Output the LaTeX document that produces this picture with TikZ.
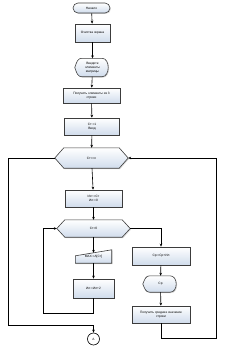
\documentclass[tikz,border=0pt]{standalone}
\usepackage{fontspec}
\setmainfont{Liberation Sans}
\usetikzlibrary{arrows.meta,shadows,calc,backgrounds}
\definecolor{boxfill}{RGB}{208,220,236}
\definecolor{boxline}{RGB}{60,60,60}
\begin{document}
\begin{tikzpicture}[x=1pt,y=-1pt,
  every node/.style={font=\fontsize{3.2}{3.9}\selectfont, align=center, inner sep=0pt},
  shapefill/.style={draw=boxline, line width=0.6pt, top color=white, bottom color=boxfill,
    drop shadow={shadow xshift=0.9pt, shadow yshift=-0.9pt, opacity=0.3}},
  box/.style={shapefill, rectangle, minimum width=#1},
  term/.style={shapefill, rectangle, rounded corners=5pt, minimum width=37pt, minimum height=10pt},
  frame/.style={draw=none, rectangle, minimum width=#1},
  conn/.style={draw=black, line width=0.6pt, -{Stealth[length=3pt,width=2.6pt]}},
  line/.style={draw=black, line width=0.6pt}]
\useasboundingbox (0,0) rectangle (227,349);

% nodes
\node[term] (start) at (91.5,8) {Начало};
\node[box=35pt, minimum height=18pt] (clr) at (92.5,33) {Очистка экрана};
\node[frame=35pt, minimum height=18pt] (inp) at (92.5,67.5) {Введите\\элементы\\матрицы};
\node[box=57pt, minimum height=15pt] (r4) at (91.5,95.5) {Получить элементы из 3\\строки};
\node[box=55pt, minimum height=17pt] (r5) at (92,126.5) {Ст:=1\\Ввод};
\node[frame=73pt, minimum height=20pt] (h1) at (91.5,158) {Ст<=n};
\node[box=57pt, minimum height=17pt] (r7) at (93.5,198.5) {Ист:=Ст\\Ил:=0};
\node[frame=73pt, minimum height=17pt] (h2) at (93.5,228.5) {Ст>0};
\node[frame=36pt, minimum height=13pt] (m) at (93.5,256.5) {\raisebox{-0.8pt}{MAX:=A[Ст]}};
\node[box=41pt, minimum height=19pt] (r10) at (93.5,288.5) {Ил:=Ил+2};
\node[box=58pt, minimum height=18pt] (r11) at (161,256) {Ср:=Ср+Ил};
\node[frame=35pt, minimum height=16pt] (d12) at (160.5,284) {Ср};
\node[box=58pt, minimum height=17pt] (r13) at (161,314.5) {Получить среднее значение\\строки};
\node[draw=black, line width=0.6pt, circle, minimum size=12pt, fill=white] (A) at (93.5,339) {A};

% custom shapes behind the texts
\begin{scope}[on background layer]
  \draw[shapefill] (inp.west) .. controls ($(inp.west)+(2,-6)$) and ($(inp.north west)+(3,0)$) .. ($(inp.north west)+(7,0)$)
     -- ($(inp.north east)+(-8,0)$) .. controls (inp.north east) and (inp.south east) .. ($(inp.south east)+(-8,0)$)
     -- ($(inp.south west)+(7,0)$) .. controls ($(inp.south west)+(3,0)$) and ($(inp.west)+(2,6)$) .. (inp.west) -- cycle;
  \draw[shapefill] (d12.west) .. controls ($(d12.west)+(2,-5)$) and ($(d12.north west)+(3,0)$) .. ($(d12.north west)+(7,0)$)
     -- ($(d12.north east)+(-8,0)$) .. controls (d12.north east) and (d12.south east) .. ($(d12.south east)+(-8,0)$)
     -- ($(d12.south west)+(7,0)$) .. controls ($(d12.south west)+(3,0)$) and ($(d12.west)+(2,5)$) .. (d12.west) -- cycle;
  \draw[shapefill] (h1.west) -- ($(h1.north west)+(9,0)$) -- ($(h1.north east)+(-9,0)$) -- (h1.east)
     -- ($(h1.south east)+(-9,0)$) -- ($(h1.south west)+(9,0)$) -- cycle;
  \draw[shapefill] (h2.west) -- ($(h2.north west)+(8,0)$) -- ($(h2.north east)+(-8,0)$) -- (h2.east)
     -- ($(h2.south east)+(-8,0)$) -- ($(h2.south west)+(8,0)$) -- cycle;
  \draw[shapefill] (m.south west) -- ($(m.north west)+(0,6)$) -- (m.north east) -- (m.south east) -- cycle;
\end{scope}

% corner coordinates
\coordinate (cA) at (8,325);
\coordinate (cL) at (43,313);
\coordinate (cR) at (216,338);

% connectors
\draw[conn] (start) -- (clr);
\draw[conn] (clr) -- (inp);
\draw[conn] (inp) -- (r4);
\draw[conn] (r4) -- (r5);
\draw[conn] (r5) -- (h1);
\draw[conn] (h1) -- (r7);
\draw[conn] (r7) -- (h2);
\draw[conn, shorten >=-3pt] (h2.south) -- (m.north);
\draw[conn] (m.south) -- (r10.north);
\draw[conn] (r10.south) |- (cL) |- (h2.west);
\draw[conn] (h2.east) -| (r11.north);
\draw[conn] (r11) -- (d12);
\draw[conn] (d12) -- (r13);
\draw[conn] (r13.south) |- (cR) |- (h1.east);
\draw[conn] (h1.west) -| (cA) -| (A.north);
\end{tikzpicture}
\end{document}
